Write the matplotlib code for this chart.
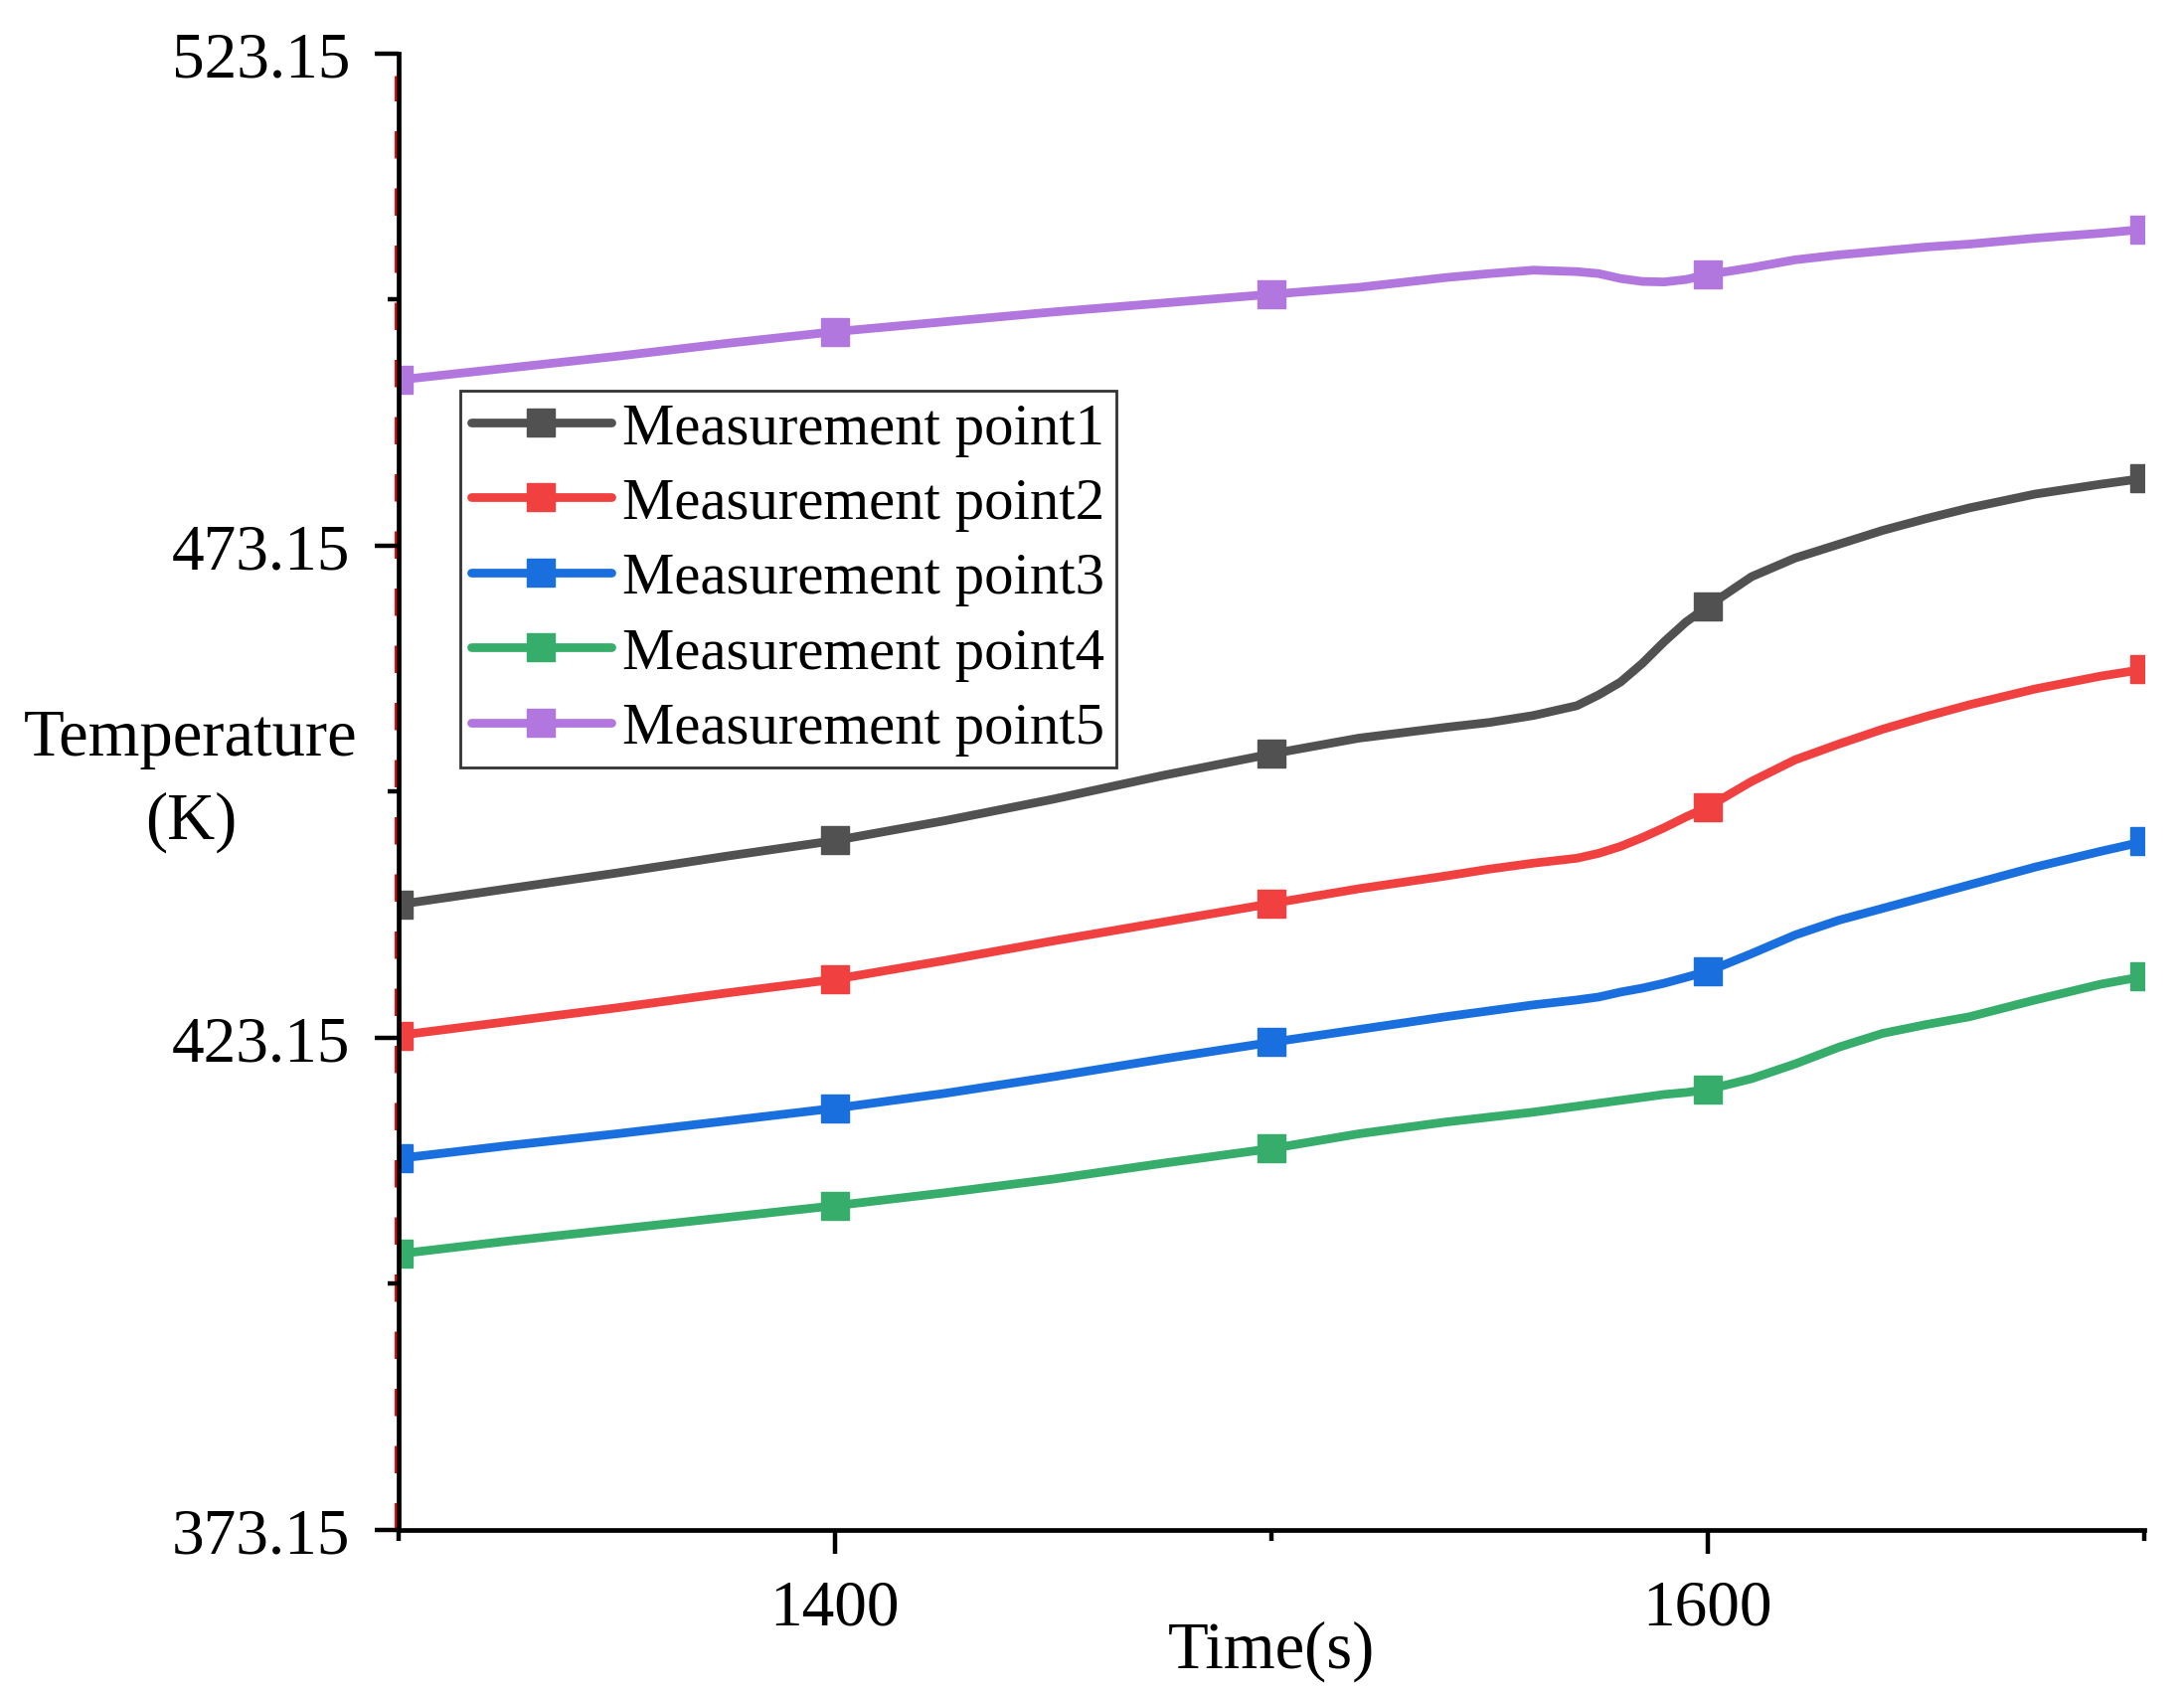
import numpy as np
import matplotlib.pyplot as plt
from matplotlib.ticker import FixedLocator
from matplotlib.transforms import offset_copy

plt.rcParams['font.family'] = ['Liberation Serif', 'DejaVu Serif']

# time samples (s)
time = [1300, 1325, 1350, 1375, 1400, 1425, 1450, 1475, 1500, 1520, 1540, 1550,
        1560, 1570, 1575, 1580, 1585, 1590, 1595, 1600, 1610, 1620, 1630, 1640,
        1650, 1660, 1675, 1690, 1700]

point1 = [436.7, 438.3, 439.9, 441.6, 443.2, 445.2, 447.4, 449.8, 452.0, 453.6, 454.7, 455.2,
          455.9, 456.9, 458.0, 459.3, 461.2, 463.4, 465.4, 467.0, 470.0, 471.9, 473.3, 474.7,
          475.9, 477.0, 478.4, 479.4, 480.0]
point2 = [423.4, 424.8, 426.2, 427.7, 429.1, 431.0, 433.0, 434.9, 436.8, 438.3, 439.6, 440.3,
          440.9, 441.4, 441.9, 442.6, 443.5, 444.5, 445.6, 446.6, 449.2, 451.4, 453.0, 454.5,
          455.8, 457.0, 458.6, 459.9, 460.6]
point3 = [410.9, 412.2, 413.4, 414.7, 416.0, 417.5, 419.2, 421.0, 422.7, 424.0, 425.3, 425.9,
          426.5, 427.0, 427.3, 427.8, 428.2, 428.7, 429.3, 429.9, 431.7, 433.6, 435.1, 436.3,
          437.5, 438.7, 440.5, 442.1, 443.1]
point4 = [401.2, 402.5, 403.7, 404.9, 406.1, 407.4, 408.8, 410.4, 411.9, 413.4, 414.6, 415.1,
          415.6, 416.2, 416.5, 416.8, 417.1, 417.4, 417.6, 417.9, 419.0, 420.5, 422.2, 423.6,
          424.5, 425.3, 427.0, 428.6, 429.4]
point5 = [490.0, 491.2, 492.4, 493.7, 494.9, 495.9, 496.9, 497.8, 498.7, 499.4, 500.4, 500.8,
          501.15, 501.0, 500.8, 500.3, 500.0, 499.95, 500.2, 500.7, 501.4, 502.2, 502.7, 503.1,
          503.5, 503.8, 504.4, 504.9, 505.3]

labels = ['Measurement point1', 'Measurement point2', 'Measurement point3',
          'Measurement point4', 'Measurement point5']
colors = ['#515151', '#F14040', '#1A6FDF', '#37AD6B', '#B177DE']
marker_times = [1300, 1400, 1500, 1600, 1700]

y_major = [373.15, 423.15, 473.15, 523.15]
y_minor = [398.15, 448.15, 498.15]
x_major = [1400, 1600]
x_minor = [1300, 1500, 1700]

fig = plt.figure(figsize=(21.97, 17.06), dpi=100)
ax = fig.add_axes([0.1825, 0.0973, 0.7993, 0.8705])

marks = [time.index(t) for t in marker_times]
for vals, lab, c in zip([point1, point2, point3, point4, point5], labels, colors):
    ax.plot(time, vals, color=c, lw=6.3, marker='s', ms=20, markevery=marks,
            label=lab, solid_joinstyle='round', solid_capstyle='round')

# red dashed reference line sitting just left of the y axis
red_tr = offset_copy(ax.get_xaxis_transform(), fig=fig, x=-1.2, y=0, units='points')
ax.plot([1300, 1300], [0, 0.985], transform=red_tr, color='red', lw=3.6,
        ls=(0, (5.5, 6)), zorder=1.5, clip_on=False)

ax.set_xlim(1300, 1700)
ax.set_ylim(373.15, 523.15)
ax.spines['top'].set_visible(False)
ax.spines['right'].set_visible(False)
for s in ('left', 'bottom'):
    ax.spines[s].set_linewidth(3.4)
    ax.spines[s].set_zorder(3)

ax.yaxis.set_major_locator(FixedLocator(y_major))
ax.yaxis.set_minor_locator(FixedLocator(y_minor))
ax.set_yticklabels(['%.2f' % v for v in y_major])
ax.xaxis.set_major_locator(FixedLocator(x_major))
ax.xaxis.set_minor_locator(FixedLocator(x_minor))

ax.tick_params(which='major', length=17, width=3.2, labelsize=47, pad=18)
ax.tick_params(which='minor', length=8, width=3.2)

ax.set_xlabel('Time(s)', fontsize=48)
ax.xaxis.set_label_coords(0.5, -0.0815)
ax.xaxis.label.set_va('center')

ax.set_ylabel('Temperature\n(K)', fontsize=48, rotation=0, linespacing=1.46,
              ha='center', va='center', multialignment='center')
ax.yaxis.set_label_coords(-0.119, 0.508)

leg = ax.legend(loc='upper left', bbox_to_anchor=(0.0351, 0.772), borderaxespad=0,
                fontsize=42.4, frameon=True, fancybox=False, edgecolor='black',
                handlelength=2.38, handletextpad=0.2, labelspacing=0.36,
                borderpad=0.2)
leg.get_frame().set_linewidth(2.0)

fig.savefig('out.png', dpi=100)
